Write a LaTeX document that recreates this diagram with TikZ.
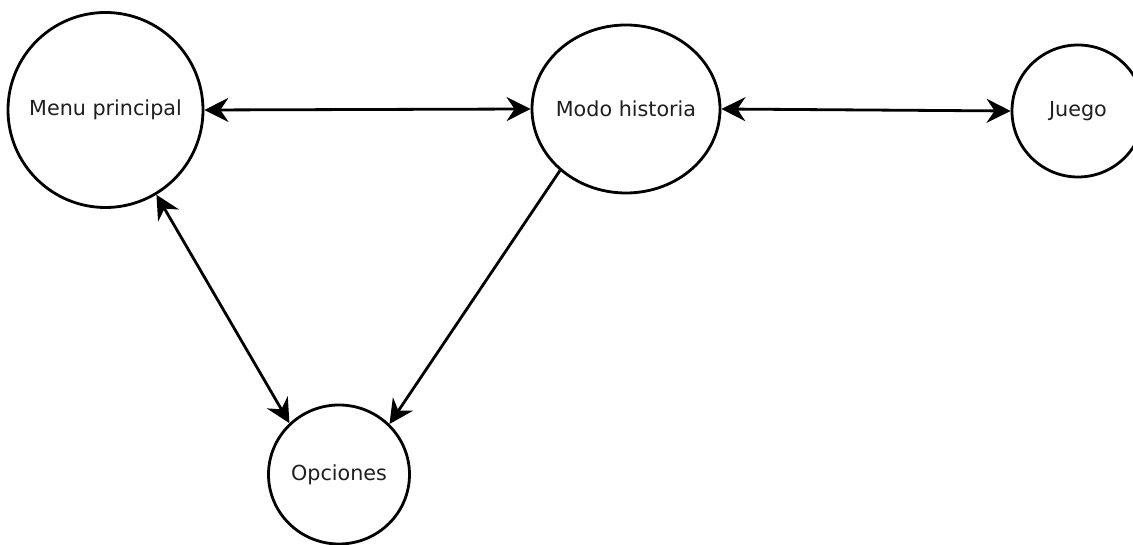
\documentclass[tikz,border=0pt]{standalone}
\usepackage{fontspec}
\setmainfont{DejaVu Sans}
\usetikzlibrary{shapes.geometric,arrows.meta}
\newcommand{\stname}[1]{\makebox[0pt]{#1}}
\begin{document}
\begin{tikzpicture}[x=1pt,y=1pt,
  state/.style={ellipse,draw=black,line width=2.8pt,inner sep=0pt,fill=white,
    text=black!88,font=\fontsize{20.7}{24}\selectfont},
  link/.style={line width=2.8pt,draw=black,
    {Stealth[length=24pt,width=24pt,inset=8pt]}-{Stealth[length=24pt,width=24pt,inset=8pt]}},
  oneway/.style={line width=2.8pt,draw=black,-{Stealth[length=24pt,width=24pt,inset=8pt]}}]
\useasboundingbox (0,0) rectangle (1133,545);
\clip (0,0) rectangle (1133,545);

% states (labels are zero-width boxes so the outline keeps its set size)
\node[state,minimum width=195pt,minimum height=195pt] (menu) at (105.5,435) {\stname{Menu principal}};
\node[state,minimum width=188pt,minimum height=168pt] (modo) at (626,436) {\stname{Modo historia}};
\node[state,minimum width=132pt,minimum height=132pt] (juego) at (1078,434) {\stname{Juego}};
\node[state,minimum width=141pt,minimum height=139pt] (opc) at (339,70.5) {\stname{Opciones}};

% transitions
\draw[link] (menu.east) -- (modo.west);
\draw[link] (modo.east) -- (juego.west);
\draw[link] (menu.-59) -- (opc.134);
\draw[oneway] (modo.-137) -- (opc.45);
\end{tikzpicture}
\end{document}
